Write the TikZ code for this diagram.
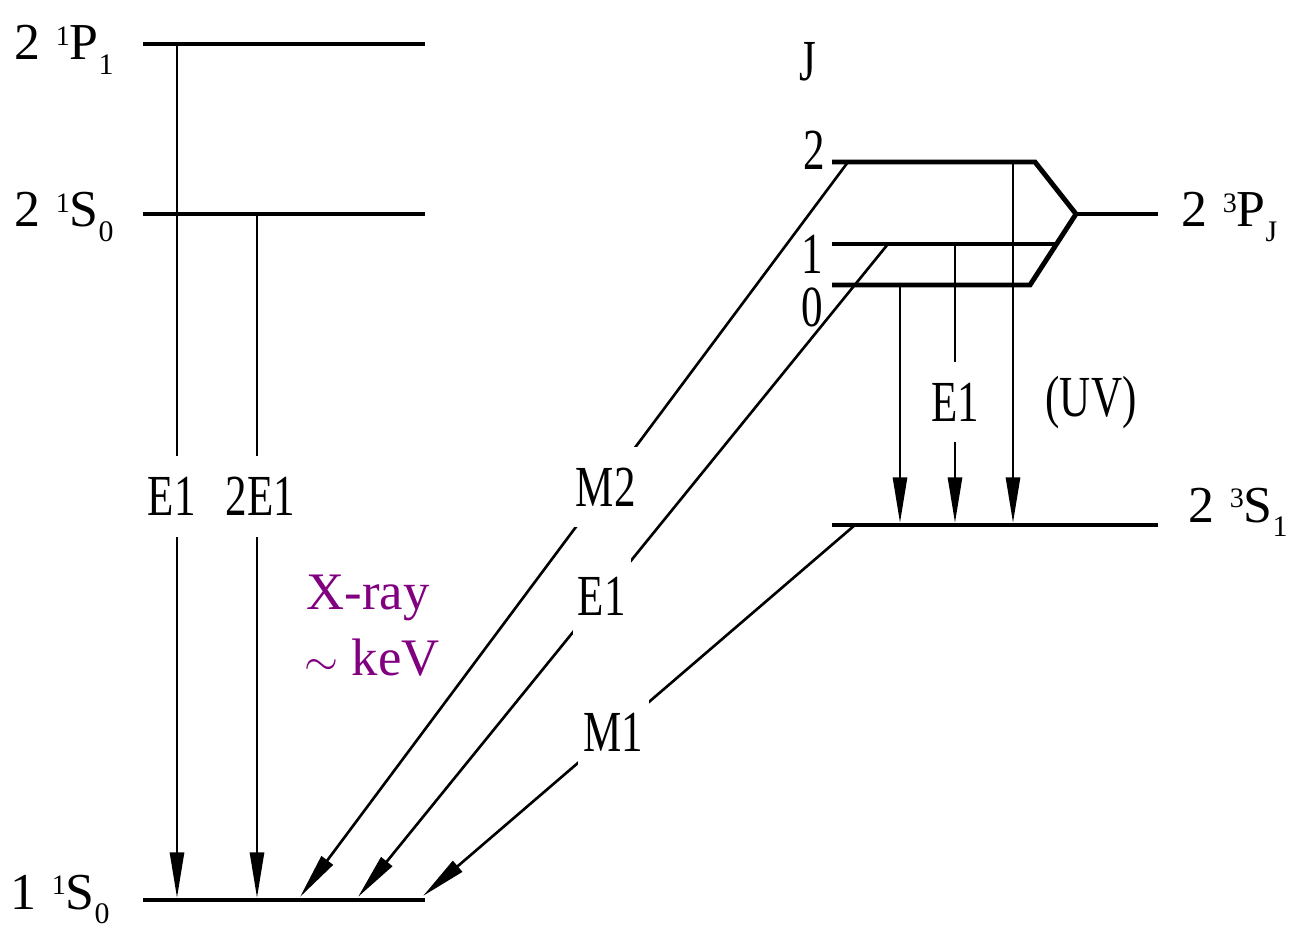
\documentclass[tikz,border=0pt]{standalone}
\usepackage{fontspec}
\setmainfont{Liberation Serif}
\usepackage{graphicx}
\usetikzlibrary{arrows.meta}
\definecolor{xraypurple}{RGB}{128,0,128}
\newcommand{\tall}[1]{\scalebox{1}[1.35]{#1}}
\newcommand{\term}[4]{#1\hspace{0.3em}\raisebox{0.28em}{\fontsize{16}{16}\selectfont #2}#3\raisebox{-0.28em}{\fontsize{17}{17}\selectfont #4}}

\begin{document}
\begin{tikzpicture}[x=0.02cm, y=-0.02cm, >={Triangle[length=26pt,width=8pt]},
    level/.style={line width=2.8pt},
    trans/.style={line width=1.5pt, ->},
    lbl/.style={font=\fontsize{24.5}{28}\selectfont, inner sep=0pt},
    cut/.style={lbl, fill=white, inner xsep=3pt, inner ysep=12pt},
    term/.style={font=\fontsize{29.5}{33}\selectfont, inner sep=0pt, anchor=base west}]

    \useasboundingbox (0,0) rectangle (1292,929);

    % Singlet levels
    \coordinate (p1l) at (143,44);   \coordinate (p1r) at (425,44);
    \coordinate (s0l) at (143,214);  \coordinate (s0r) at (425,214);
    \coordinate (gl) at (143,900);   \coordinate (gr) at (425,900);
    \draw[level] (p1l) -- (p1r);
    \draw[level] (s0l) -- (s0r);
    \draw[level] (gl) -- (gr);

    % Triplet levels
    \coordinate (j2l) at (832,162);  \coordinate (j2r) at (1035,162);
    \coordinate (j1l) at (832,244);  \coordinate (j1r) at (1058,244);
    \coordinate (j0l) at (832,285);  \coordinate (j0r) at (1030,285);
    \coordinate (fork) at (1076,214); \coordinate (pend) at (1158,214);
    \coordinate (tsl) at (832,525);  \coordinate (tsr) at (1158,525);
    \draw[level] (j2l) -- (j2r) -- (fork) -- (j0r) -- (j0l);
    \draw[level] (j1l) -- (j1r);
    \draw[level] (fork) -- (pend);
    \draw[level] (tsl) -- (tsr);

    % Level labels
    \node[term] (t1) at (14,60) {\term{2}{1}{P}{1}};
    \node[term] (t2) at (14,227) {\term{2}{1}{S}{0}};
    \node[term] (t3) at (10,909) {\term{1}{1}{S}{0}};
    \node[term] (t4) at (1181,227) {\term{2}{3}{P}{J}};
    \node[term] (t5) at (1188,522) {\term{2}{3}{S}{1}};

    % J values
    \node[lbl] (jj) at (808,62) {\tall{J}};
    \node[lbl] (jtwo) at (814,150) {\tall{2}};
    \node[lbl] (jone) at (812,254) {\tall{1}};
    \node[lbl] (jzero) at (812,307) {\tall{0}};

    % Decays to the ground state
    \coordinate (a1) at (177,44);   \coordinate (a2) at (177,898);
    \coordinate (b1) at (257,214);  \coordinate (b2) at (257,898);
    \draw[trans] (a1) -- node[cut, pos=0.53, xshift=-3pt] (le1) {\tall{E1}} (a2);
    \draw[trans] (b1) -- node[cut, pos=0.413, xshift=2pt] (l2e1) {\tall{2E1}} (b2);

    \coordinate (m2a) at (848,162);  \coordinate (m2b) at (300,897);
    \coordinate (e1a) at (888,244);  \coordinate (e1b) at (358,897);
    \coordinate (m1a) at (855,525);  \coordinate (m1b) at (423,896);
    \draw[trans] (m2a) -- node[cut, pos=0.442] (lm2) {\tall{M2}} (m2b);
    \draw[trans] (e1a) -- node[cut, pos=0.54] (le1x) {\tall{E1}} (e1b);
    \draw[trans] (m1a) -- node[cut, pos=0.559] (lm1) {\tall{M1}} (m1b);

    % Decays within n=2
    \coordinate (u0a) at (900,285);  \coordinate (u0b) at (900,523);
    \coordinate (u1a) at (955,244);  \coordinate (u1b) at (955,523);
    \coordinate (u2a) at (1013,162); \coordinate (u2b) at (1013,523);
    \draw[trans] (u0a) -- (u0b);
    \draw[trans] (u1a) -- node[cut, pos=0.566] (le1u) {\tall{E1}} (u1b);
    \draw[trans] (u2a) -- (u2b);
    \node[lbl] (uv) at (1091,403) {\tall{(UV)}};

    % X-ray note
    \node[font=\fontsize{30}{34}\selectfont, text=xraypurple, inner sep=0pt] (xray) at (368,598) {X-ray};
    \node[font=\fontsize{30}{34}\selectfont, text=xraypurple, inner sep=0pt] (kev) at (372,658) {$\sim$ keV};
\end{tikzpicture}
\end{document}
